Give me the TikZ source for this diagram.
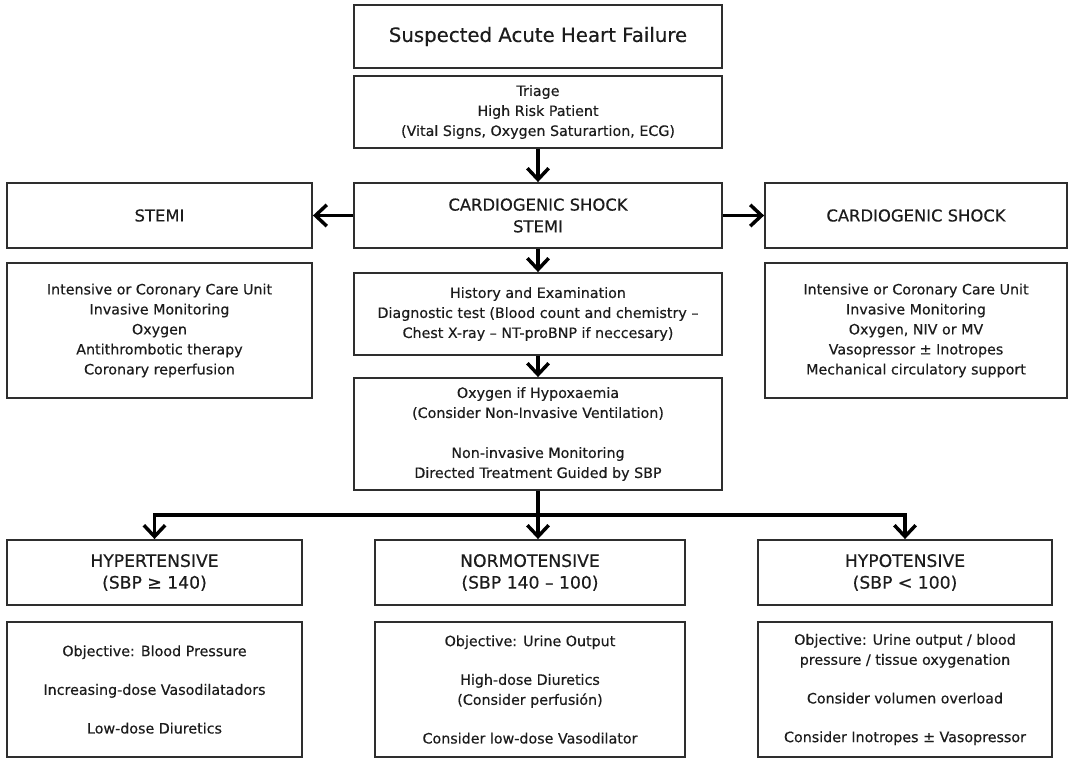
\documentclass[tikz,border=0pt]{standalone}
\usepackage{fontspec}
\setmainfont[FakeBold=0.35]{DejaVu Sans}
\usetikzlibrary{arrows.meta,shadows}
\definecolor{txt}{HTML}{1C1C1C}
\definecolor{edge}{HTML}{2E2E2E}
\tikzset{
  box/.style={draw=edge, line width=1.4pt, fill=white, align=center, inner sep=0pt,
    text=txt, font=\fontsize{10.7pt}{15pt}\selectfont,
    drop shadow={shadow xshift=0.9pt, shadow yshift=-0.9pt, opacity=0.45, fill=black}},
  bigtxt/.style={font=\fontsize{12.3pt}{16.3pt}\selectfont},
  headtxt/.style={font=\fontsize{12.9pt}{16.3pt}\selectfont},
  conn/.style={line width=2.9pt, draw=black, line join=miter},
  arr/.style={conn, -{Straight Barb[length=8.5pt,width=16pt,line width=2.6pt]}},
}
\begin{document}
\begin{tikzpicture}[x=0.75pt,y=-0.75pt]
\useasboundingbox[fill=white] (0,0) rectangle (1069,759);

\node[box, minimum width=276pt, minimum height=47.25pt, font=\fontsize{14.8pt}{17pt}\selectfont] (title) at (538,36.5) {Suspected Acute Heart Failure};
\node[box, minimum width=276pt, minimum height=54pt] (triage) at (538,112) {Triage\\High Risk Patient\\(Vital Signs, Oxygen Saturartion, ECG)};
\node[box, bigtxt, minimum width=276pt, minimum height=48.75pt] (cs) at (538,215.5) {CARDIOGENIC SHOCK\\STEMI};
\node[box, bigtxt, minimum width=228.75pt, minimum height=48.75pt] (stemi) at (159.5,215.5) {STEMI};
\node[box, minimum width=228.75pt, minimum height=101.25pt] (stemiC) at (159.5,330.5) {Intensive or Coronary Care Unit\\Invasive Monitoring\\Oxygen\\Antithrombotic therapy\\Coronary reperfusion};
\node[box, bigtxt, minimum width=226.5pt, minimum height=48.75pt] (csR) at (916,215.5) {CARDIOGENIC SHOCK};
\node[box, minimum width=226.5pt, minimum height=101.25pt] (csRC) at (916,330.5) {Intensive or Coronary Care Unit\\Invasive Monitoring\\Oxygen, NIV or MV\\Vasopressor ± Inotropes\\Mechanical circulatory support};
\node[box, minimum width=276pt, minimum height=61.5pt] (hist) at (538,314) {History and Examination\\Diagnostic test (Blood count and chemistry –\\Chest X-ray – NT-proBNP if neccesary)};
\node[box, minimum width=276pt, minimum height=84pt] (oxy) at (538,434) {Oxygen if Hypoxaemia\\(Consider Non-Invasive Ventilation)\\[15pt]Non-invasive Monitoring\\Directed Treatment Guided by SBP};

\node[box, headtxt, minimum width=221.25pt, minimum height=48.75pt] (hyper) at (154.5,572.5) {HYPERTENSIVE\\(SBP ≥ 140)};
\node[box, minimum width=221.25pt, minimum height=101.25pt] (hyperC) at (154.5,689.5) {Objective: Blood Pressure\\[14pt]Increasing-dose Vasodilatadors\\[14pt]Low-dose Diuretics};
\node[box, headtxt, minimum width=232.5pt, minimum height=48.75pt] (normo) at (530,572.5) {NORMOTENSIVE\\(SBP 140 – 100)};
\node[box, minimum width=232.5pt, minimum height=101.25pt] (normoC) at (530,689.5) {Objective: Urine Output\\[14pt]High-dose Diuretics\\(Consider perfusión)\\[14pt]Consider low-dose Vasodilator};
\node[box, headtxt, minimum width=220.5pt, minimum height=48.75pt] (hypo) at (905,572.5) {HYPOTENSIVE\\(SBP < 100)};
\node[box, minimum width=220.5pt, minimum height=101.25pt] (hypoC) at (905,689.5) {Objective: Urine output / blood\\pressure / tissue oxygenation\\[14pt]Consider volumen overload\\[14pt]Consider Inotropes ± Vasopressor};

\draw[arr] (triage.south) -- (cs.north);
\draw[arr] (cs.west) -- (stemi.east);
\draw[arr] (cs.east) -- (csR.west);
\draw[arr] (cs.south) -- (hist.north);
\draw[arr] (hist.south) -- (oxy.north);
\coordinate (bar) at (538,515);
\draw[conn] (oxy.south) -- (bar);
\draw[arr] (bar) -| (hyper.north);
\draw[arr] (bar) -| (hypo.north);
\draw[arr] (bar) -- (bar |- normo.north);
\end{tikzpicture}
\end{document}
